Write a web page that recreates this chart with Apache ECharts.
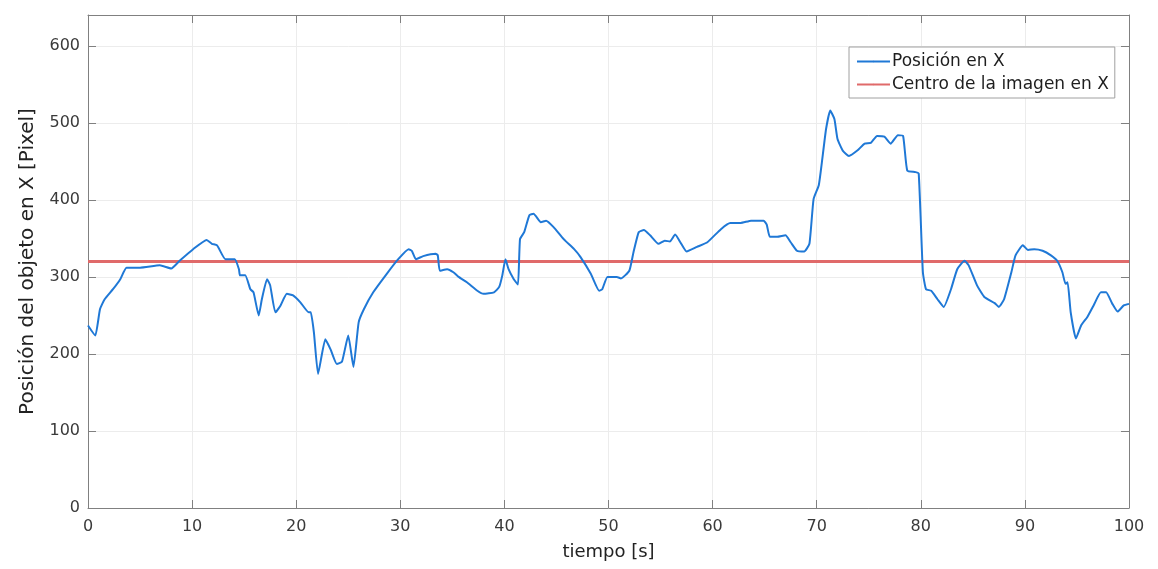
<!DOCTYPE html>
<html>
<head>
<meta charset="utf-8">
<script src="https://cdn.jsdelivr.net/npm/echarts@6/dist/echarts.min.js"></script>
<style>
  html, body { margin: 0; padding: 0; background: #ffffff; }
  #chart { width: 1158px; height: 569px; }
</style>
</head>
<body>
<div id="chart"></div>
<script>
// Tracked horizontal position of the object over time
const timeS = [0, 0.7, 1.15, 1.6, 2.4, 3.1, 3.7, 5, 6.9, 8.0, 8.8, 10.1, 11.4, 11.9, 12.4, 13.2, 14.1, 14.5, 14.6, 15.1,
  15.6, 15.9, 16.4, 16.7, 17.2, 17.5, 18.0, 18.5, 19.1, 19.7, 20.4, 21.2, 21.4, 21.7, 22.1, 22.8, 23.3, 23.9, 24.4, 25.0,
  25.5, 26.0, 26.5, 27.4, 28.7, 29.8, 30.8, 31.1, 31.5, 32.2, 33.4, 33.6, 33.8, 34.5, 35.1, 35.6, 36.4, 37.4, 38.0, 39.0,
  39.5, 39.8, 40.1, 40.4, 40.9, 41.3, 41.5, 41.9, 42.4, 42.8, 43.5, 44.0, 44.7, 45.7, 46.7, 47.3, 48.3, 49.1, 49.4, 49.9,
  50.8, 51.2, 52.0, 52.4, 52.9, 53.4, 54.0, 54.8, 55.4, 55.9, 56.4, 56.9, 57.5, 58.5, 59.5, 60.8, 61.7, 62.7, 63.7, 64.9,
  65.2, 65.5, 66.2, 67.0, 67.5, 68.1, 68.8, 69.3, 69.7, 70.2, 70.5, 70.9, 71.3, 71.7, 72.0, 72.5, 73.1, 73.9, 74.6, 75.2,
  75.8, 76.5, 77.1, 77.8, 78.3, 78.7, 79.5, 79.8, 80.2, 80.5, 81.0, 81.6, 82.2, 82.9, 83.5, 84.2, 84.6, 85.4, 86.1, 87.1,
  87.5, 88.0, 88.7, 89.1, 89.8, 90.3, 90.9, 91.7, 92.5, 93.1, 93.6, 93.9, 94.1, 94.4, 94.9, 95.4, 96.0, 96.6, 97.3, 97.8,
  98.4, 98.9, 99.5, 100];
const posX = [237, 224, 258, 271, 284, 297, 312, 312, 315, 311, 321, 336, 348, 343, 341, 323, 323, 310, 302, 302,
  284, 280, 250, 271, 297, 289, 254, 263, 278, 276, 267, 254, 254, 228, 174, 219, 206, 187, 190, 224,
  183, 241, 258, 280, 304, 323, 336, 334, 323, 327, 330, 328, 308, 310, 306, 300, 293, 282, 278, 280,
  287, 302, 323, 310, 297, 290, 349, 358, 380, 382, 371, 373, 365, 349, 336, 326, 304, 282, 284, 300,
  300, 298, 308, 332, 358, 361, 354, 343, 347, 346, 355, 345, 333, 339, 345, 362, 370, 370, 373, 373,
  368, 352, 352, 354, 345, 334, 333, 343, 401, 419, 449, 492, 516, 505, 479, 464, 457, 464, 473, 474,
  483, 482, 473, 484, 483, 438, 436, 434, 306, 284, 282, 271, 261, 284, 310, 321, 315, 289, 274, 266,
  261, 271, 306, 328, 341, 335, 336, 334, 328, 321, 306, 291, 293, 254, 220, 237, 248, 263, 280, 280,
  265, 255, 263, 265];

// Image centre (640 px wide frame)
const centreX = 320;
const timeRange = [0, 100];

const seriesNames = ['Posición en X', 'Centro de la imagen en X'];
const xTitle = 'tiempo [s]';
const yTitle = 'Posición del objeto en X [Pixel]';

const posData = timeS.map((t, i) => [t, posX[i]]);
const centreData = timeRange.map(t => [t, centreX]);

const font = '"DejaVu Sans", "Liberation Sans", Arial, sans-serif';
const boxColor = '#808080';
const labelColor = '#3a3a3a';
const gridColor = '#ececec';

const chart = echarts.init(document.getElementById('chart'), null, { renderer: 'canvas' });

// Top and right axes close the frame and carry inward ticks
const frameAxis = {
  type: 'value',
  min: 0,
  axisLine: { show: true, onZero: false, lineStyle: { color: boxColor, width: 1 } },
  axisTick: { show: true, inside: true, length: 8, lineStyle: { color: boxColor } },
  axisLabel: { show: false },
  splitLine: { show: false }
};

chart.setOption({
  animation: false,
  backgroundColor: '#ffffff',
  grid: { left: 88, right: 29, top: 15, bottom: 61, containLabel: false },
  legend: {
    orient: 'vertical',
    left: 849,
    top: 47,
    itemWidth: 33,
    itemHeight: 2,
    itemGap: 6,
    padding: [6, 6, 5, 7],
    backgroundColor: '#ffffff',
    borderColor: '#a0a0a0',
    borderWidth: 1,
    textStyle: { fontFamily: font, fontSize: 17, lineHeight: 17, color: '#1e1e1e', padding: [0, 0, 0, -3] },
    data: seriesNames
  },
  xAxis: [
    {
      type: 'value',
      position: 'bottom',
      min: 0,
      max: 100,
      interval: 10,
      name: xTitle,
      nameLocation: 'middle',
      nameGap: 35,
      nameTextStyle: { fontFamily: font, fontSize: 18, color: '#222222' },
      axisLine: { show: true, onZero: false, lineStyle: { color: boxColor, width: 1 } },
      axisTick: { show: true, inside: true, length: 8, lineStyle: { color: boxColor } },
      axisLabel: { fontFamily: font, fontSize: 16, color: labelColor, margin: 11 },
      splitLine: { show: true, lineStyle: { color: gridColor, width: 1 } }
    },
    Object.assign({ position: 'top', max: 100, interval: 10 }, frameAxis)
  ],
  yAxis: [
    {
      type: 'value',
      position: 'left',
      min: 0,
      max: 640,
      interval: 100,
      name: yTitle,
      nameLocation: 'middle',
      nameGap: 50,
      nameTextStyle: { fontFamily: font, fontSize: 20, color: '#222222' },
      axisLine: { show: true, onZero: false, lineStyle: { color: boxColor, width: 1 } },
      axisTick: { show: true, inside: true, length: 8, lineStyle: { color: boxColor } },
      axisLabel: {
        fontFamily: font, fontSize: 16, color: labelColor, margin: 8,
        formatter: v => (v > 600 ? '' : String(v))
      },
      splitLine: { show: true, lineStyle: { color: gridColor, width: 1 } }
    },
    Object.assign({ position: 'right', max: 640, interval: 100 }, frameAxis)
  ],
  series: [
    {
      name: seriesNames[0],
      type: 'line',
      xAxisIndex: 0,
      yAxisIndex: 0,
      data: posData,
      showSymbol: false,
      symbol: 'none',
      smooth: 0.15,
      lineStyle: { color: '#1f78d6', width: 2 },
      itemStyle: { color: '#1f78d6' },
      z: 3
    },
    {
      name: seriesNames[1],
      type: 'line',
      xAxisIndex: 1,
      yAxisIndex: 1,
      data: centreData,
      showSymbol: false,
      symbol: 'none',
      lineStyle: { color: '#e06a6a', width: 3 },
      itemStyle: { color: '#e06a6a' },
      z: 2
    }
  ]
});
</script>
</body>
</html>
